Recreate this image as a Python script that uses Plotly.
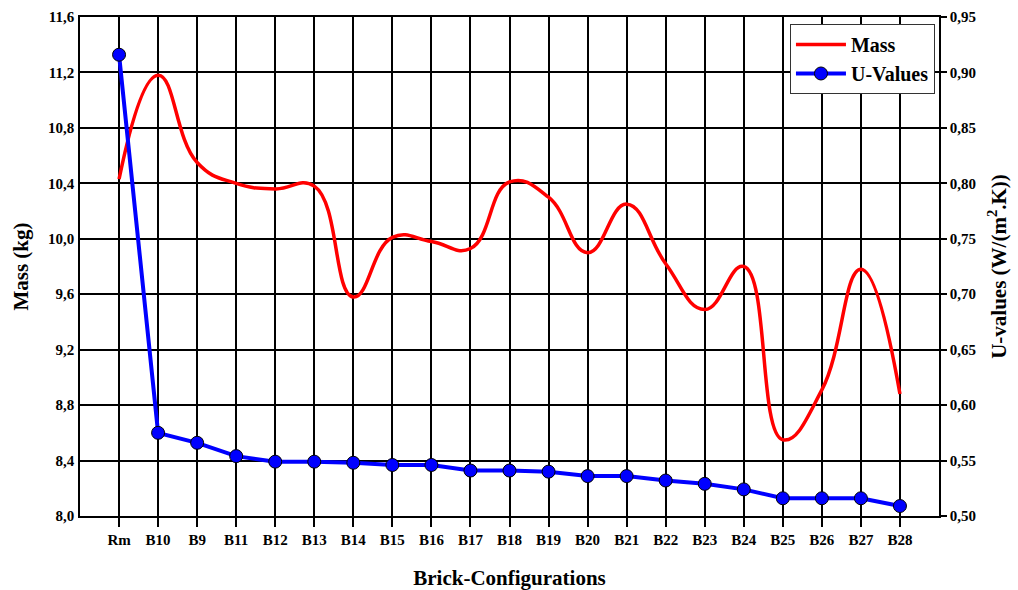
import plotly.graph_objects as go

categories = ["Rm", "B10", "B9", "B11", "B12", "B13", "B14", "B15", "B16", "B17",
              "B18", "B19", "B20", "B21", "B22", "B23", "B24", "B25", "B26", "B27", "B28"]
mass_kg = [10.43, 11.18, 10.55, 10.40, 10.36, 10.38, 9.58, 10.01, 9.98, 9.93,
           10.41, 10.30, 9.90, 10.25, 9.82, 9.49, 9.80, 8.55, 8.91, 9.78, 8.88]
u_values = [0.916, 0.575, 0.566, 0.554, 0.549, 0.549, 0.548, 0.546, 0.546, 0.541,
            0.541, 0.540, 0.536, 0.536, 0.532, 0.529, 0.524, 0.516, 0.516, 0.516, 0.509]

left_ticks = [8.0, 8.4, 8.8, 9.2, 9.6, 10.0, 10.4, 10.8, 11.2, 11.6]
right_ticks = [0.50, 0.55, 0.60, 0.65, 0.70, 0.75, 0.80, 0.85, 0.90, 0.95]

FONT = "Liberation Serif, Times New Roman, serif"

fig = go.Figure()
fig.add_trace(go.Scatter(
    x=categories, y=mass_kg, name="Mass", mode="lines",
    line=dict(color="#ff0000", width=3.5, shape="spline", smoothing=1.3),
    yaxis="y"))
fig.add_trace(go.Scatter(
    x=categories, y=u_values, name="U-Values", mode="lines+markers",
    line=dict(color="#0000ff", width=4),
    marker=dict(size=13, color="#0000ff", line=dict(color="black", width=1)),
    yaxis="y2"))

fig.update_layout(
    width=1018, height=590,
    margin=dict(l=80, r=79, t=17, b=74),
    paper_bgcolor="white", plot_bgcolor="white",
    separators=",.",
    font=dict(family=FONT, size=15, color="black", weight="bold"),
    showlegend=True,
    legend=dict(x=0.9953, y=0.986, xanchor="right", yanchor="top",
                bgcolor="white", bordercolor="#333333", borderwidth=1,
                font=dict(family=FONT, size=20, color="black", weight="bold"),
                itemwidth=50),
    xaxis=dict(
        type="category", range=[-1, 21], automargin=False,
        showgrid=True, gridcolor="black", gridwidth=1.5,
        showline=True, linecolor="black", linewidth=1.5, mirror=True,
        ticks="outside", ticklen=9, tickwidth=1.5, tickcolor="black",
        tickfont=dict(family=FONT, size=15, weight="bold"),
        title=dict(text="Brick-Configurations", standoff=26,
                   font=dict(family=FONT, size=21, weight="bold")),
        zeroline=False),
    yaxis=dict(
        range=[8.0, 11.6], tickvals=left_ticks, tickformat=".1f", automargin=False,
        showgrid=True, gridcolor="black", gridwidth=1.5,
        showline=True, linecolor="black", linewidth=1.5,
        ticks="", zeroline=False, ticklabelstandoff=1,
        tickfont=dict(family=FONT, size=15, weight="bold"),
        title=dict(text="Mass (kg)", standoff=14,
                   font=dict(family=FONT, size=21, weight="bold"))),
    yaxis2=dict(
        range=[0.50, 0.95], tickvals=right_ticks, tickformat=".2f", automargin=False,
        overlaying="y", side="right",
        showgrid=False, showline=True, linecolor="black", linewidth=1.5,
        ticks="outside", ticklen=6, tickwidth=1.5, tickcolor="black",
        zeroline=False,
        tickfont=dict(family=FONT, size=15, weight="bold"),
        title=dict(text="U-values (W/(m<sup>2</sup>.K))", standoff=16,
                   font=dict(family=FONT, size=21, weight="bold"))),
)

fig.write_html("out.html",
               config={"displayModeBar": False},
               post_script="document.body.style.margin='0px';document.body.style.overflow='hidden';")
